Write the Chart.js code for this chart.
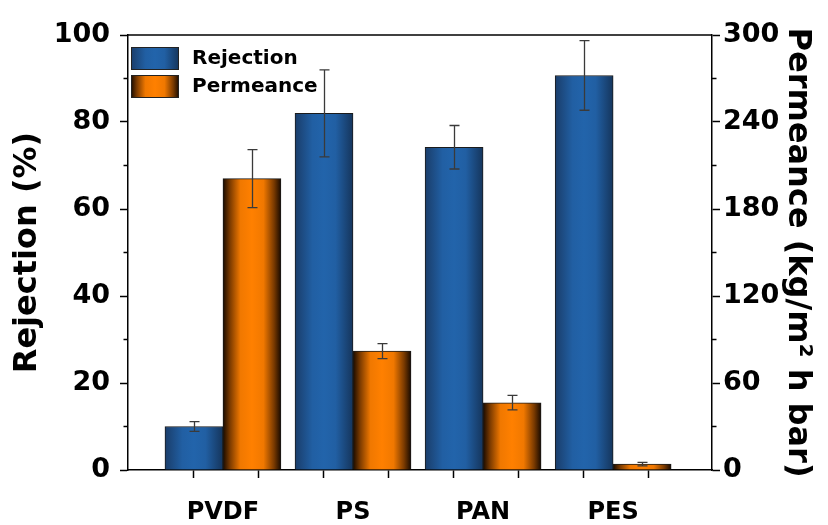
<!DOCTYPE html>
<html>
<head>
<meta charset="utf-8">
<script src="https://cdn.jsdelivr.net/npm/chart.js@4.4.1/dist/chart.umd.min.js"></script>
<style>
    html, body { margin: 0; padding: 0; background: #fff; }
</style>
</head>
<body>
<canvas id="grafica" width="828" height="525"></canvas>
<script>

// DATOS

const categories = ['PVDF', 'PS', 'PAN', 'PES'];
const seriesNames = ['Rejection', 'Permeance'];
const rejection = [10, 82, 74.2, 90.7];
const rejectionErr = [1.1, 10, 5, 8];
const permeance = [201, 82, 46.4, 4];
const permeanceErr = [20, 5.2, 5, 1.2];
const rejectionTicks = [0, 20, 40, 60, 80, 100];
const permeanceTicks = [0, 60, 120, 180, 240, 300];
const xTickMarks = [0.775, 1.275, 1.775, 2.275, 2.775, 3.275, 3.775, 4.275];



// ESTILOS

const FAMILIA = '"DejaVu Sans", "Liberation Sans", Arial, sans-serif';
const paletaAzul = [[0, '#1a3d6a'], [0.3, '#215fa3'], [0.5, '#2264ab'], [0.7, '#215fa3'], [1, '#15355c']];
const paletaNaranja = [[0, '#180a00'], [0.12, '#7a3a00'], [0.3, '#f07800'], [0.5, '#ff8000'], [0.7, '#f07800'], [0.88, '#7a3a00'], [1, '#180a00']];
const paletas = [paletaAzul, paletaNaranja];


/**
 * Degradado horizontal para una barra.
 */
function gradiente(ctx, x, ancho, paleta) {
    const g = ctx.createLinearGradient(x, 0, x + ancho, 0);
    paleta.forEach(([p, c]) => g.addColorStop(p, c));
    return g;
}

/**
 * Agrega los ticks menores entre los mayores.
 */
function conMenores(vals) {
    return vals.flatMap((v, i) => i ? [(vals[i - 1] + v) / 2, v] : [v]);
}



// PLUGINS

const estiloBarras = {
    id: 'estiloBarras',
    beforeDatasetsDraw(chart) {
        const ctx = chart.ctx;
        chart.data.datasets.forEach((ds, i) => {
            chart.getDatasetMeta(i).data.forEach(bar => {
                const g = gradiente(ctx, bar.x - bar.width / 2, bar.width, paletas[i]);
                bar.options = Object.assign({}, bar.options, { backgroundColor: g });
            });
        });
    }
};

const barrasError = {
    id: 'barrasError',
    afterDatasetsDraw(chart) {
        const ctx = chart.ctx;
        const errores = [rejectionErr, permeanceErr];
        ctx.save();
        ctx.strokeStyle = '#3a3a3a';
        ctx.lineWidth = 1.3;
        chart.data.datasets.forEach((ds, i) => {
            const escala = chart.scales[ds.yAxisID];
            chart.getDatasetMeta(i).data.forEach((bar, j) => {
                const v = ds.data[j].y;
                const e = errores[i][j];
                const y1 = escala.getPixelForValue(v + e);
                const y2 = escala.getPixelForValue(v - e);
                const x = Math.round(bar.x) + 0.5;
                ctx.beginPath();
                ctx.moveTo(x, y1);
                ctx.lineTo(x, y2);
                ctx.moveTo(x - 5, y1);
                ctx.lineTo(x + 5, y1);
                ctx.moveTo(x - 5, y2);
                ctx.lineTo(x + 5, y2);
                ctx.stroke();
            });
        });
        ctx.restore();
    }
};

const marco = {
    id: 'marco',
    afterDraw(chart) {
        const { ctx, chartArea } = chart;
        ctx.save();
        ctx.strokeStyle = '#000';
        ctx.lineWidth = 1.5;
        ctx.beginPath();
        ctx.moveTo(chartArea.left, chartArea.top);
        ctx.lineTo(chartArea.right, chartArea.top);
        ctx.stroke();

        // ticks menores de los ejes y
        [['y', rejectionTicks, -1], ['y2', permeanceTicks, 1]].forEach(([id, mayores, lado]) => {
            const s = chart.scales[id];
            const x0 = lado < 0 ? s.right : s.left;
            s.ticks.forEach(t => {
                if (mayores.includes(t.value)) return;
                const y = s.getPixelForValue(t.value);
                ctx.beginPath();
                ctx.moveTo(x0, y);
                ctx.lineTo(x0 + lado * 4.5, y);
                ctx.stroke();
            });
        });
        ctx.restore();
    }
};

const leyenda = {
    id: 'leyenda',
    afterDraw(chart) {
        const { ctx, chartArea } = chart;
        const x0 = chartArea.left + 3;
        const y0 = chartArea.top + 12;
        ctx.save();
        chart.data.datasets.forEach((ds, i) => {
            const y = y0 + i * 28;
            ctx.fillStyle = gradiente(ctx, x0, 48, paletas[i]);
            ctx.fillRect(x0, y, 48, 23);
            ctx.strokeStyle = '#222';
            ctx.lineWidth = 1;
            ctx.strokeRect(x0 + 0.5, y + 0.5, 47, 22);
            ctx.fillStyle = '#000';
            ctx.font = 'bold 20px ' + FAMILIA;
            ctx.textBaseline = 'middle';
            ctx.fillText(ds.label, x0 + 61, y + 12);
        });
        ctx.restore();
    }
};



// GRAFICA

const fuenteTicks = { family: FAMILIA, size: 27, weight: 'bold' };
const fuenteTitulo = { family: FAMILIA, size: 32, weight: 'bold' };
const transparente = 'rgba(0,0,0,0)';

new Chart(document.getElementById('grafica').getContext('2d'), {
    type: 'bar',
    data: {
        datasets: [
            {
                label: seriesNames[0],
                data: rejection.map((v, i) => ({ x: i + 1, y: v })),
                yAxisID: 'y',
                borderColor: '#1b1b1b',
                borderWidth: 1,
                barThickness: 58
            },
            {
                label: seriesNames[1],
                data: permeance.map((v, i) => ({ x: i + 1, y: v })),
                yAxisID: 'y2',
                borderColor: '#1b1b1b',
                borderWidth: 1,
                barThickness: 58
            }
        ]
    },
    options: {
        responsive: false,
        animation: false,
        layout: { padding: { top: 35, left: 0, right: 0, bottom: 0 } },
        plugins: {
            legend: { display: false },
            tooltip: { enabled: false }
        },
        scales: {
            x: {
                type: 'linear',
                min: 0.27,
                max: 4.76,
                offset: false,
                afterBuildTicks: (s) => {
                    const vals = xTickMarks.concat(categories.map((c, i) => i + 1)).sort((a, b) => a - b);
                    s.ticks = vals.map(v => ({ value: v }));
                },
                ticks: {
                    autoSkip: false,
                    maxRotation: 0,
                    padding: 20,
                    color: '#000',
                    font: { family: FAMILIA, size: 24, weight: 'bold' },
                    callback: (v) => Number.isInteger(v) ? categories[v - 1] : ''
                },
                grid: {
                    offset: false,
                    drawOnChartArea: false,
                    tickLength: 8,
                    tickWidth: 1.5,
                    tickColor: (c) => Number.isInteger(c.tick.value) ? transparente : '#000'
                },
                border: { color: '#000', width: 1.5 },
                afterFit: (s) => { s.height = 55; }
            },
            y: {
                type: 'linear',
                position: 'left',
                min: 0,
                max: 100,
                afterBuildTicks: (s) => { s.ticks = conMenores(rejectionTicks).map(v => ({ value: v })); },
                ticks: {
                    autoSkip: false,
                    padding: 10,
                    color: '#000',
                    font: fuenteTicks,
                    callback: (v) => rejectionTicks.includes(v) ? v : ''
                },
                grid: {
                    drawOnChartArea: false,
                    tickLength: 8,
                    tickWidth: 1.5,
                    tickColor: (c) => rejectionTicks.includes(c.tick.value) ? '#000' : transparente
                },
                border: { color: '#000', width: 1.5 },
                title: {
                    display: true,
                    text: 'Rejection (%)',
                    color: '#000',
                    font: fuenteTitulo,
                    padding: { top: 8, bottom: 0 }
                },
                afterFit: (s) => { s.width = 128; }
            },
            y2: {
                type: 'linear',
                position: 'right',
                min: 0,
                max: 300,
                afterBuildTicks: (s) => { s.ticks = conMenores(permeanceTicks).map(v => ({ value: v })); },
                ticks: {
                    autoSkip: false,
                    padding: 3,
                    color: '#000',
                    font: fuenteTicks,
                    callback: (v) => permeanceTicks.includes(v) ? v : ''
                },
                grid: {
                    drawOnChartArea: false,
                    tickLength: 8,
                    tickWidth: 1.5,
                    tickColor: (c) => permeanceTicks.includes(c.tick.value) ? '#000' : transparente
                },
                border: { color: '#000', width: 1.5 },
                title: {
                    display: true,
                    text: 'Permeance (kg/m² h bar)',
                    color: '#000',
                    font: fuenteTitulo,
                    padding: { top: 11, bottom: 0 }
                },
                afterFit: (s) => { s.width = 116; }
            }
        }
    },
    plugins: [estiloBarras, barrasError, marco, leyenda]
});

</script>
</body>
</html>
